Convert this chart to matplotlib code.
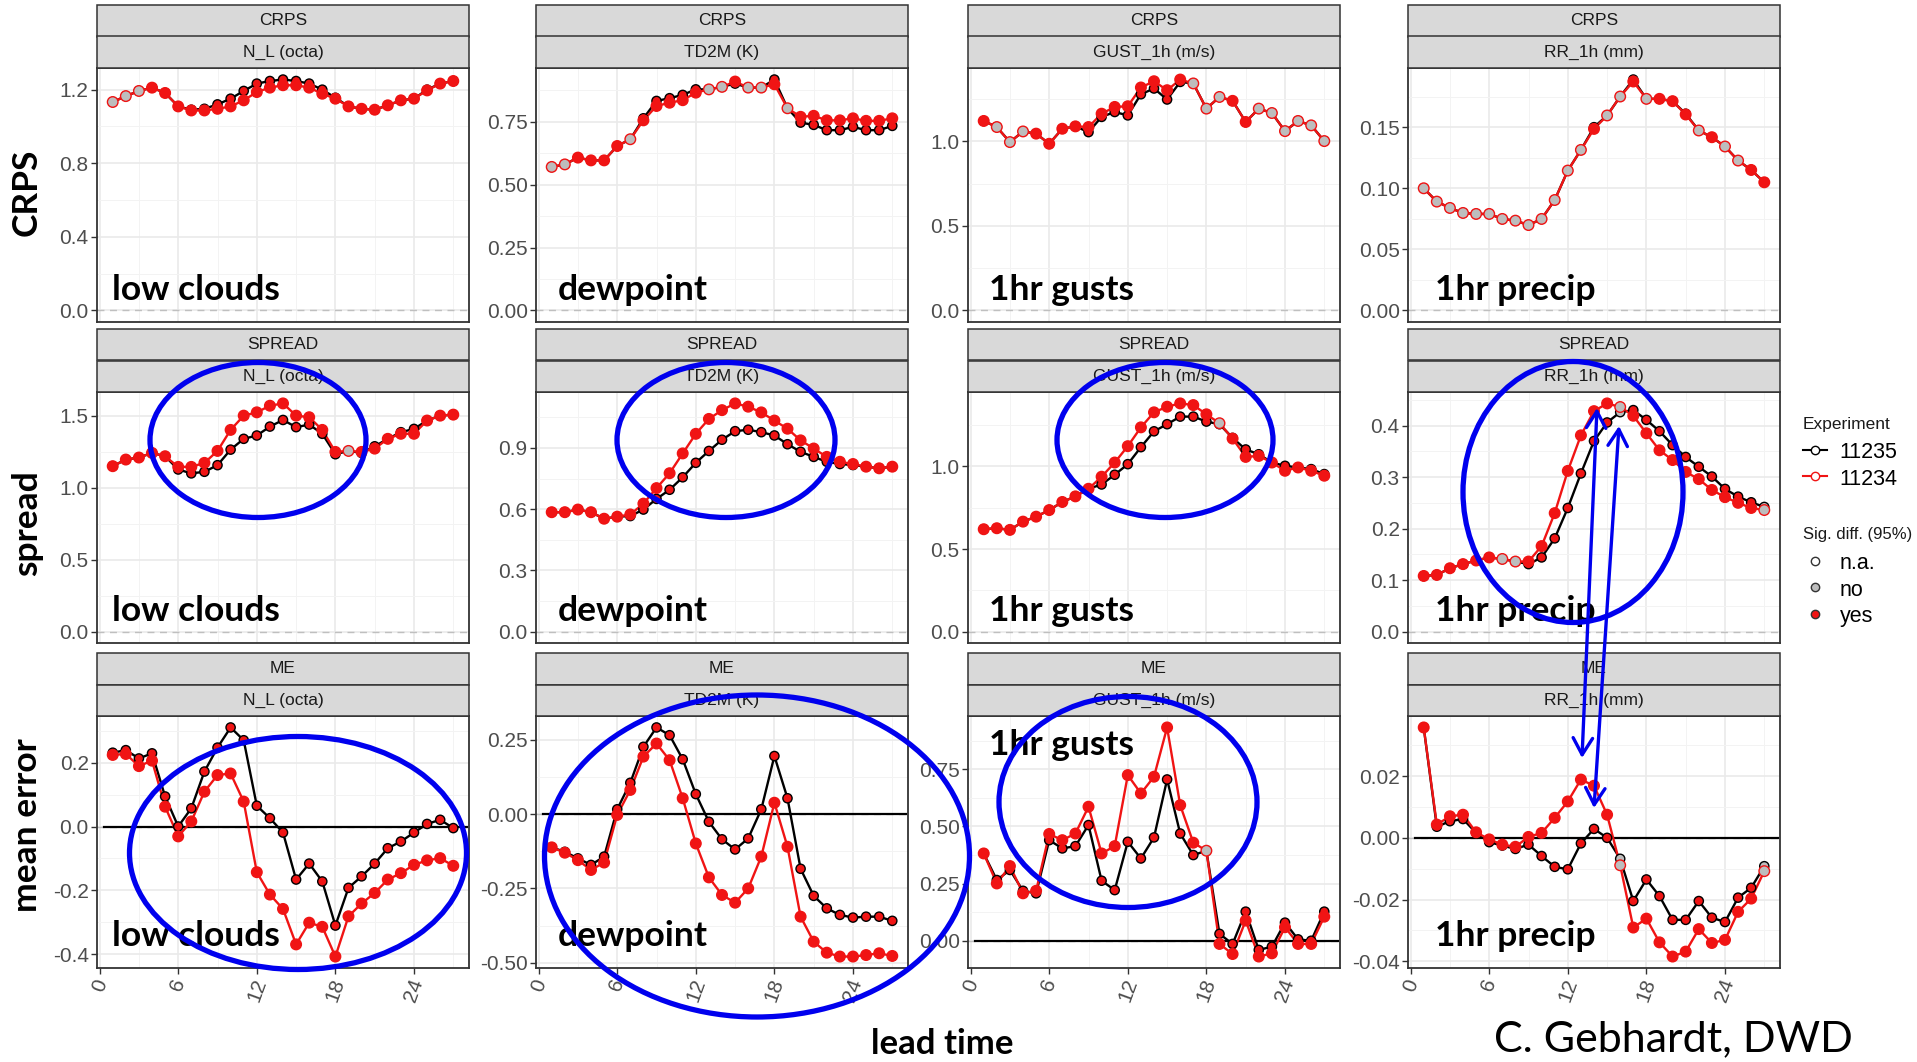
import matplotlib
matplotlib.use("Agg")
import matplotlib.pyplot as plt
from matplotlib.patches import Rectangle, Ellipse, FancyArrowPatch
from matplotlib.lines import Line2D

plt.rcParams['font.family'] = ['Liberation Sans', 'DejaVu Sans']
plt.rcParams['axes.unicode_minus'] = False

# ---------------- data ----------------
hours = list(range(1, 28))
x_ticks = [0, 6, 12, 18, 24]
x_tick_labels = ['0', '6', '12', '18', '24']
x_minor = [3, 9, 15, 21, 27]

metrics = ['CRPS', 'SPREAD', 'ME']
variables = ['N_L (octa)', 'TD2M (K)', 'GUST_1h (m/s)', 'RR_1h (mm)']
row_labels = ['CRPS', 'spread', 'mean error']
var_names = ['low clouds', 'dewpoint', '1hr gusts', '1hr precip']
experiments = ['11235', '11234']
sig_levels = ['n.a.', 'no', 'yes']

# CRPS
crps_nl_11235 = [1.133, 1.165, 1.193, 1.211, 1.182, 1.109, 1.091, 1.096, 1.120, 1.151, 1.193, 1.233, 1.247, 1.255,
                 1.247, 1.233, 1.200, 1.156, 1.109, 1.096, 1.091, 1.115, 1.142, 1.151, 1.200, 1.233, 1.247]
crps_nl_11234 = [1.133, 1.165, 1.193, 1.211, 1.182, 1.109, 1.087, 1.087, 1.096, 1.109, 1.142, 1.187, 1.211, 1.224,
                 1.224, 1.211, 1.178, 1.151, 1.109, 1.096, 1.091, 1.115, 1.142, 1.151, 1.196, 1.233, 1.247]
sig_crps_nl = "nnnyyyyyy" "yyyyyyyyy" "yyyyyyyyy"

crps_td_11235 = [0.570, 0.580, 0.607, 0.596, 0.596, 0.653, 0.680, 0.763, 0.832, 0.843, 0.856, 0.878, 0.878, 0.888,
                 0.901, 0.885, 0.885, 0.917, 0.803, 0.746, 0.737, 0.716, 0.716, 0.729, 0.716, 0.716, 0.733]
crps_td_11234 = [0.570, 0.580, 0.607, 0.596, 0.596, 0.653, 0.680, 0.755, 0.812, 0.825, 0.835, 0.865, 0.878, 0.888,
                 0.909, 0.885, 0.885, 0.898, 0.803, 0.769, 0.773, 0.755, 0.755, 0.763, 0.753, 0.753, 0.763]
sig_crps_td = "nnyyyynyy" "yyynnynny" "nyyyyyyyy"

crps_gu_11235 = [1.121, 1.085, 0.996, 1.059, 1.046, 0.986, 1.075, 1.089, 1.055, 1.145, 1.174, 1.154, 1.279, 1.313,
                 1.248, 1.352, 1.343, 1.194, 1.263, 1.240, 1.115, 1.194, 1.168, 1.061, 1.121, 1.095, 1.002]
crps_gu_11234 = [1.121, 1.085, 0.996, 1.059, 1.046, 0.986, 1.075, 1.089, 1.085, 1.164, 1.204, 1.208, 1.319, 1.356,
                 1.303, 1.366, 1.343, 1.194, 1.263, 1.240, 1.115, 1.194, 1.168, 1.061, 1.121, 1.095, 1.002]
sig_crps_gu = "ynnnyyyyy" "yyyyyyynn" "nyynnnnnn"

crps_rr_11235 = [0.1000, 0.0891, 0.0839, 0.0798, 0.0790, 0.0790, 0.0749, 0.0735, 0.0699, 0.0749, 0.0904, 0.1145,
                 0.1314, 0.1500, 0.1596, 0.1751, 0.1890, 0.1732, 0.1732, 0.1713, 0.1610, 0.1473, 0.1418, 0.1342,
                 0.1227, 0.1150, 0.1049]
crps_rr_11234 = [0.1000, 0.0891, 0.0839, 0.0798, 0.0790, 0.0790, 0.0749, 0.0735, 0.0699, 0.0749, 0.0904, 0.1145,
                 0.1314, 0.1486, 0.1596, 0.1751, 0.1874, 0.1732, 0.1732, 0.1713, 0.1604, 0.1473, 0.1418, 0.1342,
                 0.1227, 0.1150, 0.1049]
sig_crps_rr = "nnnnnnnnn" "nnnnynnyn" "yyynynnyy"

# SPREAD
spr_nl_11235 = [1.149, 1.195, 1.209, 1.241, 1.218, 1.126, 1.099, 1.110, 1.156, 1.264, 1.339, 1.362, 1.424, 1.470,
                1.420, 1.438, 1.374, 1.232, 1.255, 1.241, 1.287, 1.339, 1.385, 1.408, 1.466, 1.500, 1.507]
spr_nl_11234 = [1.149, 1.195, 1.209, 1.241, 1.218, 1.144, 1.144, 1.172, 1.255, 1.401, 1.500, 1.523, 1.569, 1.585,
                1.500, 1.489, 1.401, 1.248, 1.255, 1.248, 1.271, 1.339, 1.374, 1.374, 1.466, 1.500, 1.507]
sig_spr_nl = "yyyyyyyyy" "yyyyyyyyy" "nyyyyyyyy"

spr_td_11235 = [0.585, 0.585, 0.598, 0.585, 0.553, 0.563, 0.566, 0.598, 0.650, 0.695, 0.756, 0.827, 0.885, 0.940,
                0.982, 0.989, 0.977, 0.961, 0.918, 0.881, 0.856, 0.832, 0.821, 0.816, 0.808, 0.800, 0.808]
spr_td_11234 = [0.585, 0.585, 0.598, 0.585, 0.553, 0.563, 0.574, 0.627, 0.703, 0.776, 0.873, 0.969, 1.042, 1.085,
                1.118, 1.102, 1.074, 1.034, 0.994, 0.937, 0.897, 0.856, 0.832, 0.821, 0.808, 0.800, 0.808]
sig_spr_td = "yyyyyyyyy" "yyyyyyyyy" "yyyyyyyyy"

spr_gu_11235 = [0.620, 0.626, 0.616, 0.666, 0.696, 0.736, 0.785, 0.819, 0.865, 0.891, 0.950, 1.014, 1.117, 1.213,
                1.256, 1.302, 1.302, 1.272, 1.256, 1.173, 1.103, 1.074, 1.024, 1.004, 0.994, 0.984, 0.954]
spr_gu_11234 = [0.620, 0.626, 0.616, 0.666, 0.696, 0.736, 0.785, 0.819, 0.865, 0.938, 1.024, 1.123, 1.237, 1.328,
                1.362, 1.382, 1.372, 1.316, 1.262, 1.169, 1.058, 1.064, 1.024, 0.974, 0.994, 0.974, 0.944]
sig_spr_gu = "yyyyyyyyy" "yyyyyyyyy" "nyyyyyyyy"

spr_rr_11235 = [0.108, 0.110, 0.123, 0.131, 0.138, 0.144, 0.141, 0.136, 0.131, 0.144, 0.181, 0.240, 0.307, 0.370,
                0.406, 0.426, 0.430, 0.411, 0.389, 0.362, 0.339, 0.320, 0.301, 0.277, 0.262, 0.251, 0.242]
spr_rr_11234 = [0.108, 0.110, 0.123, 0.131, 0.138, 0.144, 0.141, 0.136, 0.136, 0.166, 0.230, 0.312, 0.381, 0.428,
                0.443, 0.436, 0.419, 0.385, 0.352, 0.333, 0.310, 0.296, 0.275, 0.261, 0.250, 0.240, 0.236]
sig_spr_rr = "yyyyyynny" "yyyyyynyy" "yyyyyyyyn"

# ME
me_nl_11235 = [0.231, 0.239, 0.213, 0.229, 0.094, 0.000, 0.057, 0.172, 0.247, 0.310, 0.270, 0.065, 0.026, -0.019,
               -0.166, -0.116, -0.172, -0.310, -0.192, -0.156, -0.116, -0.068, -0.047, -0.019, 0.008, 0.021, -0.005]
me_nl_11234 = [0.224, 0.227, 0.189, 0.206, 0.062, -0.031, 0.016, 0.109, 0.161, 0.166, 0.078, -0.143, -0.213, -0.258,
               -0.369, -0.301, -0.314, -0.407, -0.281, -0.241, -0.208, -0.166, -0.146, -0.120, -0.106, -0.099, -0.123]
sig_me_nl = "yyyyyyyyy" "yyyyyyyyy" "yyyyyyyyy"

me_td_11235 = [-0.112, -0.127, -0.149, -0.171, -0.143, 0.016, 0.105, 0.226, 0.291, 0.265, 0.184, 0.067, -0.026,
               -0.085, -0.119, -0.082, 0.016, 0.195, 0.053, -0.184, -0.275, -0.317, -0.339, -0.348, -0.345, -0.345,
               -0.359]
me_td_11234 = [-0.112, -0.130, -0.155, -0.188, -0.163, -0.003, 0.081, 0.193, 0.237, 0.181, 0.053, -0.099, -0.213,
               -0.272, -0.298, -0.250, -0.143, 0.038, -0.110, -0.345, -0.429, -0.466, -0.479, -0.479, -0.474, -0.468,
               -0.477]
sig_me_td = "yyyyyyyyy" "yyyyyyyyy" "yyyyyyyyy"

me_gu_11235 = [0.382, 0.266, 0.310, 0.219, 0.208, 0.440, 0.404, 0.414, 0.506, 0.263, 0.222, 0.433, 0.360, 0.452,
               0.705, 0.469, 0.375, 0.394, 0.031, -0.013, 0.128, -0.039, -0.025, 0.080, 0.007, 0.001, 0.128]
me_gu_11234 = [0.382, 0.251, 0.327, 0.208, 0.219, 0.467, 0.440, 0.469, 0.586, 0.382, 0.414, 0.724, 0.644, 0.717,
               0.932, 0.593, 0.429, 0.394, -0.013, -0.057, 0.089, -0.068, -0.054, 0.060, -0.013, -0.013, 0.106]
sig_me_gu = "yyyyyyyyy" "yyyyyyyyn" "yyyyyyyyy"

me_rr_11235 = [0.0358, 0.0036, 0.0054, 0.0061, 0.0016, -0.0014, -0.0025, -0.0036, -0.0022, -0.0059, -0.0094,
               -0.0102, -0.0018, 0.0029, 0.0000, -0.0068, -0.0205, -0.0135, -0.0189, -0.0266, -0.0266, -0.0205,
               -0.0259, -0.0273, -0.0194, -0.0162, -0.0092]
me_rr_11234 = [0.0358, 0.0043, 0.0070, 0.0075, 0.0018, -0.0005, -0.0022, -0.0029, 0.0003, 0.0016, 0.0065, 0.0118,
               0.0189, 0.0169, 0.0075, -0.0089, -0.0291, -0.0262, -0.0339, -0.0385, -0.0369, -0.0296, -0.0341,
               -0.0331, -0.0240, -0.0197, -0.0108]
sig_me_rr = "yyyyyyyyy" "yyyyyynyy" "yyyyyyyyn"

# y tick values and their decimals per panel
y_ticks = [
    [[0.0, 0.4, 0.8, 1.2], [0.0, 0.25, 0.5, 0.75], [0.0, 0.5, 1.0], [0.0, 0.05, 0.10, 0.15]],
    [[0.0, 0.5, 1.0, 1.5], [0.0, 0.3, 0.6, 0.9], [0.0, 0.5, 1.0], [0.0, 0.1, 0.2, 0.3, 0.4]],
    [[-0.4, -0.2, 0.0, 0.2], [-0.5, -0.25, 0.0, 0.25], [0.0, 0.25, 0.5, 0.75], [-0.04, -0.02, 0.0, 0.02]],
]
y_decimals = [[1, 2, 1, 2], [1, 1, 1, 1], [1, 2, 2, 2]]

series = [
    [(crps_nl_11235, crps_nl_11234, sig_crps_nl), (crps_td_11235, crps_td_11234, sig_crps_td),
     (crps_gu_11235, crps_gu_11234, sig_crps_gu), (crps_rr_11235, crps_rr_11234, sig_crps_rr)],
    [(spr_nl_11235, spr_nl_11234, sig_spr_nl), (spr_td_11235, spr_td_11234, sig_spr_td),
     (spr_gu_11235, spr_gu_11234, sig_spr_gu), (spr_rr_11235, spr_rr_11234, sig_spr_rr)],
    [(me_nl_11235, me_nl_11234, sig_me_nl), (me_td_11235, me_td_11234, sig_me_td),
     (me_gu_11235, me_gu_11234, sig_me_gu), (me_rr_11235, me_rr_11234, sig_me_rr)],
]

# ---------------- style / layout ----------------
W, H = 1917, 1062
RED = '#F01414'
BLUE = '#0000EE'
GREY_FILL = '#BDBDBD'
fill_map = {'y': RED, 'n': GREY_FILL, 'a': 'white'}

col_x = [(97, 469), (536, 908), (968, 1340), (1408, 1780)]
row_y = [(68, 322), (392, 643), (716, 968)]
strip_top = [5, 329, 653]
label_dx = [15, 22, 21, 27]


def fx(px):
    return px / W


def fy(py):
    return 1 - py / H


fig = plt.figure(figsize=(W / 100, H / 100), dpi=100)
fig.patch.set_facecolor('white')


def strip(x0, x1, y0, y1, text):
    fig.add_artist(Rectangle((fx(x0), fy(y1)), (x1 - x0) / W, (y1 - y0) / H, transform=fig.transFigure,
                             facecolor='#D9D9D9', edgecolor='#333333', lw=1.1, zorder=2))
    fig.text(fx((x0 + x1) / 2), fy((y0 + y1) / 2), text, ha='center', va='center', fontsize=12.5,
             color='#1A1A1A', zorder=3)


for r in range(3):
    for c in range(4):
        x0, x1 = col_x[c]
        y0, y1 = row_y[r]
        ax = fig.add_axes([fx(x0), fy(y1), (x1 - x0) / W, (y1 - y0) / H])
        ax.set_facecolor('white')
        black, red, sig = series[r][c]
        sig_cols = [fill_map[s] for s in sig]

        lo = min(0, min(black), min(red))
        hi = max(0, max(black), max(red))
        pad = 0.05 * (hi - lo)
        ax.set_xlim(-0.2, 28.2)

        # grid
        yt = y_ticks[r][c]
        step = yt[1] - yt[0]
        ym = [yt[0] - step / 2] + [t + step / 2 for t in yt]
        ax.set_yticks(yt)
        ax.set_yticklabels([f"{t:.{y_decimals[r][c]}f}" for t in yt])
        ax.set_yticks(ym, minor=True)
        ax.set_xticks(x_ticks)
        ax.set_xticks(x_minor, minor=True)
        ax.set_ylim(lo - pad, hi + pad)
        ax.grid(which='major', color='#EAEAEA', lw=1.2)
        ax.grid(which='minor', color='#F3F3F3', lw=0.7)
        ax.set_axisbelow(True)

        ax.axhline(0, color='#BFBFBF', ls=(0, (5, 4)), lw=1.0, zorder=1)
        if r == 2:
            ax.axhline(0, xmin=0.02, xmax=0.995, color='black', lw=1.6, zorder=1.5)

        ax.plot(hours, black, color='black', lw=1.7, zorder=2)
        ax.plot(hours, red, color=RED, lw=1.7, zorder=2.1)
        ax.scatter(hours, black, s=44, c=sig_cols, edgecolors='black', linewidths=1.0, zorder=3)
        ax.scatter(hours, red, s=58, c=sig_cols, edgecolors=RED, linewidths=1.0, zorder=3.1)

        for sp in ax.spines.values():
            sp.set_color('#333333')
            sp.set_linewidth(1.3)
        ax.tick_params(axis='y', which='major', length=4, width=1, color='#333333', labelsize=15,
                       labelcolor='#4D4D4D', pad=2)
        ax.tick_params(which='minor', length=0)
        if r < 2:
            ax.tick_params(axis='x', which='major', length=0, labelbottom=False)
        else:
            ax.tick_params(axis='x', which='major', length=4, width=1, color='#333333', labelsize=15,
                           labelcolor='#4D4D4D', pad=2)
            ax.set_xticklabels(x_tick_labels, rotation=70, ha='center', va='top')

        # panel variable label
        if r == 2 and c == 2:
            ty = 1 - 39 / (y1 - y0)
        else:
            ty = 22 / (y1 - y0)
        ax.text(label_dx[c] / (x1 - x0), ty, var_names[c], transform=ax.transAxes, ha='left', va='baseline',
                fontsize=25.5, fontweight='bold', family='Lato', color='black', zorder=5)

        # strips
        mid = (strip_top[r] + y0) / 2
        strip(x0, x1, strip_top[r], mid, metrics[r])
        strip(x0, x1, mid, y0, variables[c])

# row labels
for r, (lab, yc) in enumerate(zip(row_labels, [192, 523, 825])):
    fig.text(fx(27), fy(yc), lab, rotation=90, ha='center', va='center', fontsize=25.5, fontweight='bold',
             family='Lato', color='black')

fig.text(fx(871), fy(1054), 'lead time', ha='left', va='baseline', fontsize=25, fontweight='bold',
         family='Lato', color='black')
fig.text(fx(1494), fy(1051), 'C. Gebhardt, DWD', ha='left', va='baseline', fontsize=31, family='Lato',
         color='black')

# legends (titles as separate text so their gap matches ggplot)
fig.text(fx(1803), fy(424), 'Experiment', ha='left', va='center', fontsize=12.5, color='#1A1A1A')
fig.text(fx(1803), fy(535), 'Sig. diff. (95%)', ha='left', va='center', fontsize=12, color='#1A1A1A')
exp_handles = [Line2D([], [], color='black', lw=1.5, marker='o', ms=6, mfc='white', mec='black'),
               Line2D([], [], color=RED, lw=1.5, marker='o', ms=6, mfc='white', mec=RED)]
leg1 = fig.legend(exp_handles, experiments, loc='upper left',
                  bbox_to_anchor=(fx(1803), fy(441)), frameon=False, fontsize=15.5,
                  handlelength=1.1, handletextpad=0.6, handleheight=1.0, labelspacing=0.22, borderpad=0,
                  borderaxespad=0)
sig_handles = [Line2D([], [], ls='none', marker='o', ms=6, mfc='white', mec='#333333'),
               Line2D([], [], ls='none', marker='o', ms=6, mfc=GREY_FILL, mec='#333333'),
               Line2D([], [], ls='none', marker='o', ms=6, mfc=RED, mec='#333333')]
leg2 = fig.legend(sig_handles, sig_levels, loc='upper left',
                  bbox_to_anchor=(fx(1803), fy(552)), frameon=False, fontsize=15.5,
                  handlelength=1.1, handletextpad=0.6, handleheight=1.0, labelspacing=0.22, borderpad=0,
                  borderaxespad=0)

# blue annotation ellipses (centre x, centre y, width, height in pixels)
ellipses = [(258, 440, 216, 155), (726, 440, 218, 155), (1165, 440, 216, 155), (1573, 492, 220, 261),
            (298, 853, 337, 233), (757, 856, 425, 322), (1128, 802, 258, 211)]
for cx, cy, w, h in ellipses:
    fig.add_artist(Ellipse((fx(cx), fy(cy)), w / W, h / H, transform=fig.transFigure, fill=False,
                           edgecolor=BLUE, lw=3.8, zorder=10))

arrows = [((1597, 408), (1582, 758)), ((1619, 426), (1594, 808))]
for (ax0, ay0), (ax1, ay1) in arrows:
    fig.add_artist(FancyArrowPatch((fx(ax0), fy(ay0)), (fx(ax1), fy(ay1)), transform=fig.transFigure,
                                   arrowstyle='<->,head_length=0.6,head_width=0.35', mutation_scale=20,
                                   color=BLUE, lw=2.4, shrinkA=0, shrinkB=0, zorder=11))

fig.savefig('out.png', dpi=100, facecolor='white')
